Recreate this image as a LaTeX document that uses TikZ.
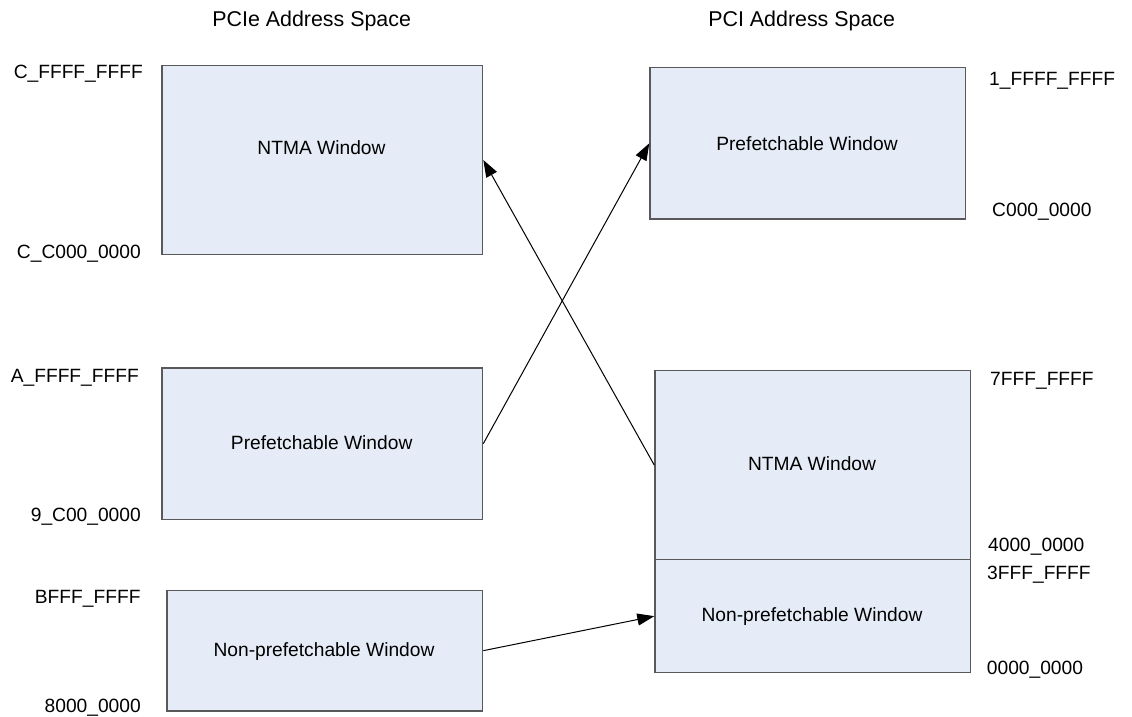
\documentclass[tikz,border=0pt]{standalone}
\usepackage{fontspec}
\setmainfont{Liberation Sans}
\usetikzlibrary{arrows.meta}
\begin{document}
\begin{tikzpicture}[x=1pt,y=-1pt,
  win/.style={draw=black!65, line width=1.3pt, fill=winblue, inner sep=0pt, anchor=north west},
  body/.style={inner sep=0pt, font=\fontsize{19.2}{22}\selectfont, anchor=base},
  title/.style={inner sep=0pt, font=\fontsize{21.4}{25}\selectfont, anchor=base},
  addrL/.style={inner sep=0pt, font=\fontsize{19.2}{22}\selectfont, anchor=base east},
  addrR/.style={inner sep=0pt, font=\fontsize{19.2}{22}\selectfont, anchor=base west},
  link/.style={draw=black, line width=1pt, -{Triangle[length=17pt,width=12pt]}}]
\definecolor{winblue}{HTML}{E6ECF7}
\useasboundingbox (0,0) rectangle (1132,717);
% boxes
\node[win, minimum width=320.7pt, minimum height=189.3pt] (lntma) at (161.3,64.7) {};
\node[win, minimum width=320.7pt, minimum height=151.4pt] (lpref) at (161.3,367.3) {};
\node[win, minimum width=315.7pt, minimum height=120.6pt] (lnon) at (166.3,589.7) {};
\node[win, minimum width=315.4pt, minimum height=151.3pt] (rpref) at (649.3,67) {};
\node[win, minimum width=315.4pt, minimum height=189pt] (rntma) at (654.3,370) {};
\node[win, minimum width=315.4pt, minimum height=113pt] (rnon) at (654.3,559) {};
% titles
\node[title] (t1) at (311.7,26.7) {PCIe Address Space};
\node[title] (t2) at (801.7,26.7) {PCI Address Space};
% box texts
\node[body] (x1) at (321.5,154) {NTMA Window};
\node[body] (x2) at (321.7,449.3) {Prefetchable Window};
\node[body] (x3) at (324,656) {Non-prefetchable Window};
\node[body] (x4) at (807,150) {Prefetchable Window};
\node[body] (x5) at (812,470) {NTMA Window};
\node[body] (x6) at (812,621.7) {Non-prefetchable Window};
% left addresses
\node[addrL] (a1) at (143,78.3) {C\_FFFF\_FFFF};
\node[addrL] (a2) at (141,258.3) {C\_C000\_0000};
\node[addrL] (a3) at (139,382.3) {A\_FFFF\_FFFF};
\node[addrL] (a4) at (141,521.7) {9\_C00\_0000};
\node[addrL] (a5) at (140.7,603.3) {BFFF\_FFFF};
\node[addrL] (a6) at (141,712.3) {8000\_0000};
% right addresses
\node[addrR] (b1) at (989,85) {1\_FFFF\_FFFF};
\node[addrR] (b2) at (992,216.7) {C000\_0000};
\node[addrR] (b3) at (990,385) {7FFF\_FFFF};
\node[addrR] (b4) at (988,551.7) {4000\_0000};
\node[addrR] (b5) at (987,579) {3FFF\_FFFF};
\node[addrR] (b6) at (986.7,674) {0000\_0000};
% connectors
\draw[link] (lpref.east) -- (rpref.west);
\draw[link] (rntma.west) -- (lntma.east);
\draw[link] (lnon.east) -- (rnon.west);
\end{tikzpicture}
\end{document}
